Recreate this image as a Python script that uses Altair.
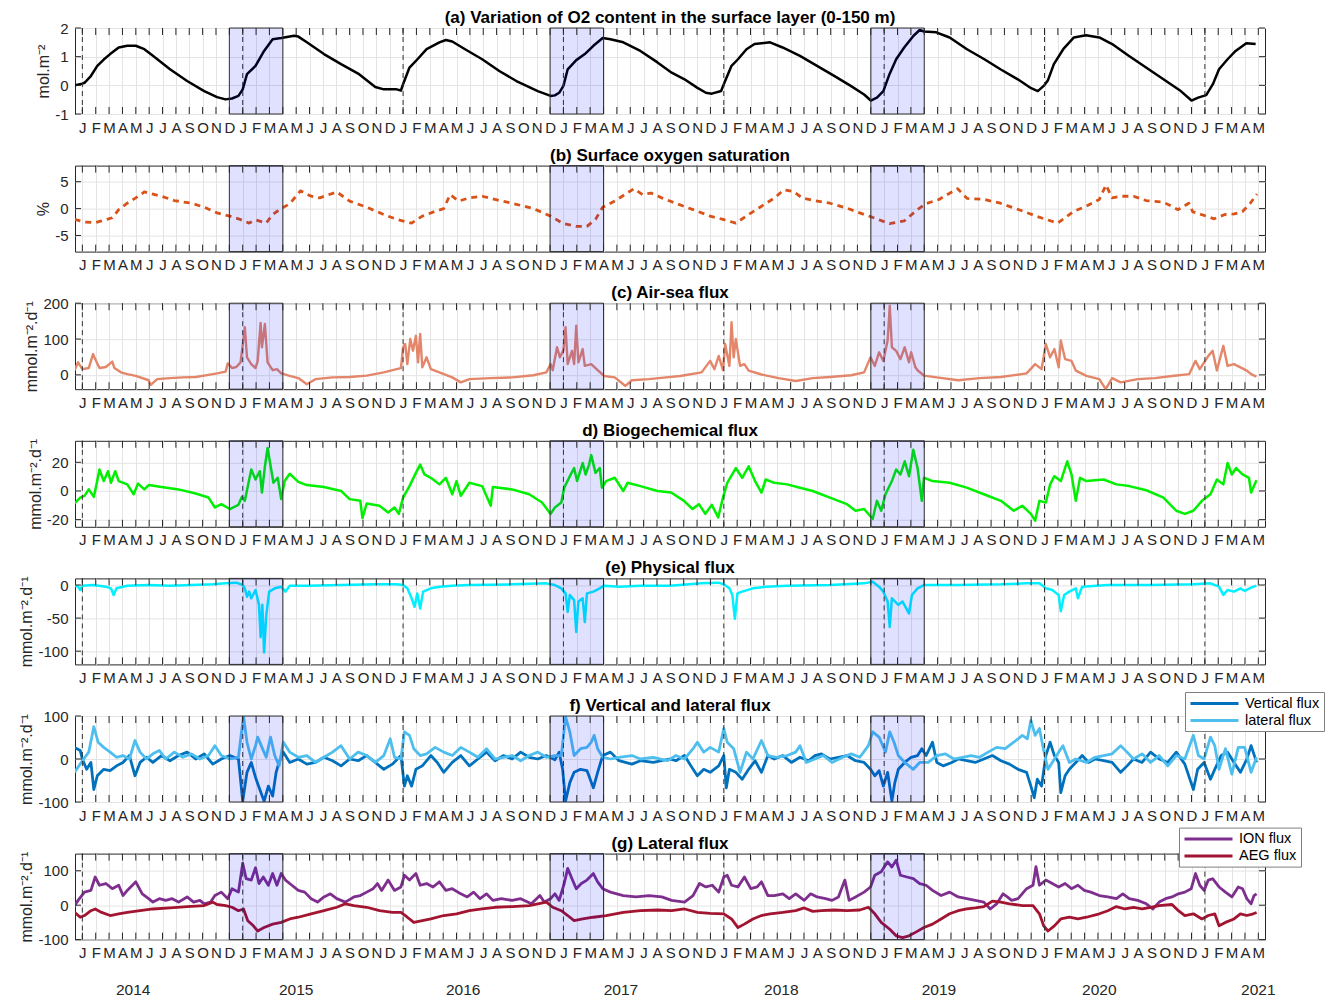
import altair as alt
import pandas as pd

# time axis: month index, 0 = 1 Jan 2014
MONTHS = list(range(0, 89))
JAN_LINES = [0, 12, 24, 36, 48, 60, 72, 84]
SHADE_START = [11, 35, 59]
SHADE_END = [15, 39, 63]
YEAR_LABELS = ["2014", "2015", "2016", "2017", "2018", "2019", "2020", "2021"]
YEAR_POS = [3.8, 16.0, 28.5, 40.3, 52.3, 64.1, 76.1, 88.0]

# (a) O2 content, mol m-2
A_O2 = [(-0.55,0.0),(0.0,0.06),(0.16,0.09),(0.6,0.3),(1.12,0.68),(1.6,0.9),(2.08,1.09),(2.72,1.32),(3.36,1.38),(4.0,1.38),(4.64,1.26),(5.28,1.03),(6.56,0.56),(7.84,0.15),(9.12,-0.2),(10.08,-0.41),(10.72,-0.49),(11.2,-0.46),(11.68,-0.37),(12.0,-0.14),(12.32,0.39),(12.96,0.68),(13.6,1.2),(14.24,1.61),(14.88,1.65),(15.84,1.73),(16.16,1.7),(16.8,1.5),(18.08,1.09),(19.36,0.74),(20.64,0.41),(21.92,-0.06),(22.56,-0.14),(23.52,-0.14),(23.84,-0.18),(24.0,0.04),(24.48,0.62),(24.96,0.85),(25.76,1.26),(26.72,1.5),(27.2,1.58),(27.68,1.53),(28.64,1.26),(29.92,0.91),(31.2,0.5),(32.48,0.15),(34.08,-0.2),(35.04,-0.37),(35.36,-0.35),(35.68,-0.26),(36.0,-0.02),(36.32,0.56),(36.96,0.88),(37.6,1.09),(38.24,1.38),(38.94,1.65),(39.52,1.61),(40.48,1.5),(41.76,1.2),(43.04,0.8),(44.1,0.44),(45.06,0.21),(46.0,-0.08),(46.66,-0.26),(47.1,-0.29),(47.8,-0.2),(48.1,0.15),(48.58,0.68),(49.06,0.91),(49.7,1.26),(50.3,1.44),(51.46,1.5),(52.4,1.32),(53.7,1.03),(54.98,0.68),(56.26,0.33),(57.5,-0.02),(58.5,-0.32),(59.0,-0.53),(59.46,-0.43),(59.94,-0.2),(60.4,0.39),(60.9,0.91),(61.5,1.32),(62.2,1.73),(62.66,1.93),(62.98,1.88),(63.9,1.85),(64.9,1.67),(66.2,1.26),(67.5,0.91),(68.7,0.56),(70.0,0.21),(71.0,-0.1),(71.5,-0.2),(71.94,-0.02),(72.26,0.18),(72.7,0.74),(73.4,1.26),(74.2,1.67),(75.1,1.75),(76.1,1.67),(77.06,1.44),(78.3,1.03),(79.6,0.62),(80.9,0.21),(82.2,-0.2),(83.0,-0.53),(83.5,-0.43),(84.1,-0.34),(84.6,0.04),(85.06,0.56),(85.7,0.91),(86.3,1.2),(87.1,1.47),(87.8,1.44)]

# (b) surface O2 saturation, %
B_SAT = [(-0.58,-2.0),(0.16,-2.5),(0.96,-2.6),(1.44,-2.3),(2.24,-1.7),(2.72,-0.2),(3.36,1.0),(4.0,2.0),(4.64,3.1),(5.28,2.7),(5.92,2.3),(6.88,1.5),(8.16,1.0),(9.12,0.25),(10.08,-0.8),(11.04,-1.4),(11.68,-1.9),(12.48,-2.7),(12.96,-2.1),(13.76,-2.7),(14.24,-1.1),(14.88,0.0),(15.52,0.9),(16.32,3.3),(17.12,2.3),(17.76,2.0),(19.04,3.1),(20.0,1.4),(21.28,0.25),(22.56,-1.1),(23.52,-2.0),(24.64,-2.7),(25.44,-1.4),(26.4,-0.5),(27.04,0.0),(27.52,2.6),(28.16,1.4),(28.96,2.0),(29.92,2.3),(30.88,1.7),(32.16,1.0),(33.76,0.0),(35.04,-1.4),(36.0,-2.8),(36.96,-3.3),(37.76,-3.3),(38.4,-2.0),(38.94,0.25),(39.84,1.4),(40.64,2.7),(41.28,3.7),(41.92,2.6),(42.56,2.9),(43.36,2.0),(44.4,1.0),(45.7,-0.2),(46.98,-1.4),(47.94,-2.0),(48.9,-2.7),(49.86,-1.1),(50.8,0.4),(51.8,2.0),(52.5,3.5),(53.2,3.2),(53.86,2.0),(54.8,1.5),(55.94,1.0),(57.2,0.1),(58.5,-1.1),(59.1,-1.6),(60.4,-2.8),(61.5,-2.3),(62.5,-0.2),(63.1,0.9),(64.1,1.7),(65.5,3.7),(66.2,1.9),(67.5,1.7),(68.7,1.0),(70.3,-0.4),(71.6,-1.6),(73.0,-2.7),(74.2,-0.5),(75.1,0.4),(76.1,1.7),(76.6,4.4),(77.06,2.0),(77.7,2.3),(78.66,2.3),(79.6,1.5),(80.9,1.2),(82.0,-0.2),(82.8,1.0),(83.1,-0.6),(84.1,-1.4),(84.7,-1.9),(85.5,-1.1),(86.2,-1.0),(86.8,-0.6),(87.4,1.0),(87.9,2.7)]

# (c) air-sea flux
C_AIRSEA = [(-0.58,13),(-0.32,35),(0.0,16),(0.48,19),(0.8,58),(0.96,44),(1.28,19),(1.76,22),(2.24,37),(2.4,19),(2.88,7),(3.36,2),(4.0,-3),(4.96,-15),(5.12,-28),(5.6,-12),(6.56,-9),(7.52,-7),(8.48,-6),(9.44,0),(10.08,4),(10.72,9),(10.88,32),(11.2,19),(11.52,22),(11.84,35),(12.16,133),(12.32,49),(12.64,30),(12.96,19),(13.12,39),(13.34,145),(13.44,77),(13.66,142),(13.86,35),(14.24,13),(14.56,16),(14.88,4),(15.52,-3),(16.16,-9),(16.8,-26),(17.44,-12),(18.72,-7),(20.0,-6),(21.28,-2),(22.56,7),(23.52,16),(23.84,19),(24.0,77),(24.16,86),(24.32,30),(24.54,100),(24.74,67),(24.96,109),(25.12,35),(25.28,114),(25.44,21),(25.76,49),(26.08,16),(26.72,7),(27.68,-7),(28.32,-21),(28.96,-12),(30.56,-9),(32.16,-7),(33.76,-1),(34.72,7),(35.04,30),(35.2,13),(35.52,77),(35.74,49),(36.0,69),(36.16,133),(36.32,30),(36.64,67),(36.8,30),(36.96,137),(37.12,35),(37.44,72),(37.6,25),(38.08,30),(38.56,13),(39.04,-3),(39.84,-7),(40.64,-31),(41.12,-15),(42.4,-12),(43.68,-7),(44.74,-3),(46.34,7),(46.98,39),(47.3,16),(47.62,53),(47.94,13),(48.1,86),(48.42,25),(48.58,147),(48.74,49),(48.9,100),(49.22,25),(49.54,30),(49.86,12),(50.82,1),(52.1,-9),(53.38,-17),(54.66,-9),(55.94,-6),(57.54,-1),(58.5,7),(58.98,49),(59.3,25),(59.62,63),(59.94,39),(60.26,96),(60.42,193),(60.58,77),(60.9,67),(61.22,44),(61.54,77),(61.86,35),(62.02,63),(62.34,21),(62.5,13),(62.98,-2),(63.94,-7),(65.54,-15),(67.14,-9),(68.74,-6),(70.66,4),(71.3,30),(71.78,16),(72.1,86),(72.42,49),(72.74,72),(73.06,21),(73.22,96),(73.54,44),(74.02,39),(74.34,12),(75.14,-3),(76.1,-12),(76.58,-40),(77.06,-9),(77.7,-21),(78.98,-12),(80.26,-9),(81.54,-3),(82.82,2),(83.3,39),(83.62,16),(84.26,53),(84.58,67),(84.9,12),(85.38,81),(85.7,25),(86.18,30),(86.66,21),(87.14,12),(87.46,2),(87.86,-5)]

# (d) biogeochemical flux
D_BIO = [(-0.58,-8.7),(-0.16,-4.6),(0.16,-3.4),(0.48,1.1),(0.86,-4.1),(1.06,4.6),(1.28,15),(1.6,6.9),(1.92,13.8),(2.14,5.7),(2.46,13.8),(2.72,6.9),(3.36,4.6),(3.84,-2.3),(4.16,5.1),(4.64,1.1),(4.96,4.1),(5.92,2.8),(7.2,1.1),(8.48,-1.8),(9.44,-4.6),(9.92,-11.5),(10.4,-9.2),(11.04,-12.6),(11.68,-9.7),(11.94,-4.1),(12.16,-6.9),(12.64,15),(12.96,8.0),(13.28,13.8),(13.44,-1.1),(13.66,17),(13.86,30),(14.05,19.5),(14.3,5.7),(14.62,9.2),(14.88,-5.7),(15.14,6.9),(15.52,12),(16.16,6.4),(16.8,4.1),(18.08,2.8),(19.36,0),(20.0,-5.7),(20.8,-6.9),(20.96,-18.9),(21.28,-8.7),(22.24,-10.3),(22.88,-15),(23.36,-11.5),(23.68,-16),(24.0,-4.6),(24.48,3.4),(24.96,12.6),(25.28,18.4),(25.6,11.5),(26.08,9.2),(26.72,4.6),(27.2,9.2),(27.68,-2.3),(28.0,6.9),(28.32,-3.4),(28.96,5.7),(29.92,3.4),(30.56,-10.3),(30.72,2.8),(32.16,1.1),(33.44,-2.3),(34.4,-8.0),(35.04,-16),(35.36,-11.5),(35.84,-8),(36.06,2.3),(36.48,10.3),(36.8,16),(37.02,6.9),(37.44,19.5),(37.66,11.5),(37.92,18.4),(38.08,25),(38.4,12.6),(38.72,16),(38.88,2.3),(39.2,6.9),(39.84,9.2),(40.48,0),(40.8,5.7),(41.76,3.4),(43.04,0),(44.06,-1.1),(45.02,-6.9),(45.66,-12.6),(46.14,-9.2),(46.62,-16),(47.1,-9.7),(47.58,-18.4),(47.94,-4.6),(48.26,5.7),(48.9,16),(49.38,9.2),(49.86,17.2),(50.34,6.9),(50.82,-1.1),(51.14,8),(51.78,5.7),(52.74,4.6),(53.7,2.3),(54.66,0),(55.94,-4.6),(57.22,-9.2),(57.86,-13.8),(58.5,-12.6),(59.14,-19.5),(59.46,-6.9),(59.78,-13.8),(60.1,-2.3),(60.58,6.9),(60.9,15),(61.22,11.5),(61.54,20.7),(61.86,10.3),(62.18,28.7),(62.5,16),(62.82,-6.9),(62.98,9.2),(63.62,6.9),(64.9,5.7),(66.18,2.3),(67.46,-2.3),(68.74,-6.9),(69.7,-13.8),(70.34,-10.3),(70.98,-16),(71.3,-20.7),(71.62,-6.9),(72.1,-8),(72.42,4.6),(72.74,10.3),(73.22,6.9),(73.7,20.7),(74.02,11.5),(74.34,-6.9),(74.66,9.2),(75.14,6.9),(76.42,8),(77.38,4.6),(78.34,3.4),(79.62,0.5),(80.9,-4.6),(81.86,-13.8),(82.5,-16),(83.14,-13.8),(83.78,-6.9),(84.42,-2.3),(84.9,8),(85.38,4.6),(85.7,19.5),(86.02,11.5),(86.34,16),(86.82,11.5),(87.3,9.2),(87.46,-1.1),(87.86,7.4)]

# (e) physical flux
E_PHYS = [(-0.58,-1),(-0.32,-2.5),(-0.16,-7.6),(0.0,-1),(0.8,0),(1.76,-2.5),(2.14,-5),(2.34,-15.2),(2.56,-5),(3.36,-1),(4.96,0),(6.56,-1),(8.16,0),(9.76,1),(10.72,2.5),(11.52,3.6),(12.0,0),(12.16,-5),(12.32,-17.8),(12.48,-10),(12.64,-20),(12.96,-7.6),(13.22,-30),(13.34,-79),(13.47,-30),(13.6,-102),(13.76,-46),(13.98,-10),(14.4,-5),(14.88,-2.5),(15.2,-10),(15.52,-1),(16.8,-1),(19.36,0),(21.92,1),(23.52,1),(24.0,0),(24.32,-5),(24.64,-20),(24.86,-33),(25.06,-12.7),(25.28,-35.5),(25.5,-10),(26.08,-5),(26.72,-2.5),(27.68,-1),(28.96,0),(32.16,1),(34.72,2.5),(35.36,0),(35.84,-5),(36.16,-12.7),(36.32,-40.6),(36.48,-15),(36.8,-22.8),(36.96,-71),(37.12,-25),(37.44,-20),(37.6,-56),(37.76,-12.7),(38.24,-10),(38.72,-5),(39.04,-1),(40.16,-2.5),(41.76,-1),(43.94,-1),(44.7,0),(46.3,2.5),(47.6,3.6),(48.0,1),(48.42,-5),(48.64,-15),(48.83,-51),(49.02,-12.7),(49.38,-10),(50.18,-5),(51.14,-2.5),(52.74,-1),(55.94,0),(58.5,2.5),(59.14,5),(59.62,-2.5),(59.94,-10),(60.26,-25),(60.42,-63.5),(60.58,-20),(61.06,-30),(61.38,-25),(61.86,-43),(62.08,-15),(62.5,-5),(62.98,0),(65.54,0),(68.74,1),(70.66,2.5),(71.62,2.5),(72.1,-5),(72.58,-7.6),(73.06,-15),(73.22,-39.6),(73.47,-15),(73.86,-10),(74.34,-5),(74.5,-20),(74.82,-2.5),(76.74,0),(79.94,0),(83.14,1),(84.42,2.5),(85.06,-2.5),(85.38,-15),(85.7,-7.6),(86.18,-10),(86.66,-5),(86.98,-9),(87.46,-4),(87.86,-1)]

# (f) vertical and lateral flux
F_VERT = [(-0.58,27),(-0.16,20),(0.0,0),(0.32,-24),(0.64,-8),(0.86,-71),(1.12,-39),(1.6,-24),(2.08,-27),(2.56,-16),(3.04,-8),(3.52,8),(3.94,-39),(4.32,-8),(4.8,4),(5.28,-8),(5.92,8),(6.56,-4),(7.2,8),(7.84,16),(8.48,0),(9.12,12),(9.76,-12),(10.4,0),(11.04,8),(11.68,0),(12.0,-98),(12.32,-31),(12.64,-8),(12.96,-43),(13.28,-71),(13.6,-98),(13.92,-63),(14.24,-86),(14.5,-31),(14.72,-8),(15.04,16),(15.52,-8),(16.16,0),(16.8,-12),(17.44,-8),(18.08,4),(18.72,-4),(19.36,-16),(20.0,0),(20.64,-4),(21.28,8),(21.92,-8),(22.56,-24),(23.2,-12),(23.84,8),(24.1,-63),(24.32,-39),(24.64,-63),(24.96,-24),(25.44,-16),(26.08,8),(26.56,-8),(27.04,-31),(27.68,-8),(28.32,8),(28.96,-16),(29.6,0),(30.24,16),(30.88,-4),(31.52,8),(32.16,0),(32.8,16),(33.44,4),(34.08,0),(34.72,8),(35.36,-2),(35.68,16),(35.94,-24),(36.16,-98),(36.48,-55),(36.8,-31),(37.28,-24),(37.76,-27),(38.24,-67),(38.56,-31),(38.94,8),(39.52,16),(40.16,-4),(41.12,-12),(41.76,-4),(42.72,-8),(43.94,0),(44.42,-4),(45.06,8),(45.54,-16),(46.02,-39),(46.5,-24),(46.98,-31),(47.62,-16),(48.0,8),(48.19,-67),(48.42,-24),(48.9,-31),(49.38,-47),(49.86,-24),(50.34,-4),(50.82,-31),(51.3,8),(51.78,0),(52.42,8),(53.06,-8),(53.7,4),(54.34,-4),(54.82,8),(55.3,12),(55.94,0),(56.58,4),(57.22,8),(57.86,-4),(58.5,-8),(58.98,-24),(59.3,-39),(59.62,-27),(59.94,-63),(60.26,-31),(60.58,-98),(60.8,-55),(61.06,-24),(61.54,-8),(62.02,4),(62.5,8),(62.82,24),(63.14,8),(63.62,39),(63.94,-8),(64.42,-16),(65.06,-8),(65.54,0),(66.18,-4),(66.82,-8),(67.46,0),(68.1,8),(68.74,-4),(69.38,-12),(70.02,-24),(70.66,-31),(70.98,-63),(71.23,-90),(71.46,-47),(71.78,-63),(72.1,8),(72.42,39),(72.74,8),(73.06,-8),(73.22,-78),(73.54,-39),(73.86,-24),(74.34,-8),(74.82,8),(75.3,-8),(75.78,0),(76.42,-4),(77.06,-8),(77.7,-31),(78.18,-16),(78.66,0),(79.3,-8),(79.94,16),(80.58,0),(81.22,-8),(81.86,16),(82.5,-12),(83.14,-71),(83.46,-24),(83.94,-8),(84.42,-47),(84.74,-24),(85.22,8),(85.7,16),(86.18,-8),(86.66,-31),(87.14,0),(87.46,31),(87.87,-8)]
F_LAT = [(-0.58,-31),(0.0,-4),(0.48,16),(0.86,75),(1.18,39),(1.6,27),(2.08,16),(2.56,4),(3.04,8),(3.52,0),(3.94,43),(4.32,16),(4.8,0),(5.28,12),(5.76,20),(6.24,0),(6.88,16),(7.52,4),(8.16,12),(8.8,0),(9.44,8),(9.92,31),(10.4,8),(11.04,0),(11.68,4),(12.06,100),(12.32,39),(12.64,0),(12.96,31),(13.12,51),(13.44,27),(13.76,4),(14.08,51),(14.4,8),(14.72,-16),(15.04,39),(15.52,16),(16.16,4),(16.8,8),(17.44,-8),(18.08,4),(18.72,16),(19.36,31),(20.0,0),(20.64,16),(21.28,8),(21.92,-8),(22.56,8),(23.04,47),(23.36,4),(23.84,0),(24.1,63),(24.48,55),(24.8,24),(25.28,8),(25.76,12),(26.4,27),(27.04,16),(27.68,8),(28.32,27),(28.96,16),(29.6,4),(30.24,24),(30.88,0),(31.52,4),(32.16,8),(32.8,-4),(33.44,8),(34.08,16),(34.72,4),(35.36,8),(35.84,8),(36.16,98),(36.48,63),(36.8,8),(37.28,24),(37.76,27),(38.08,39),(38.3,55),(38.56,24),(38.94,4),(39.52,0),(40.16,4),(41.12,8),(41.76,0),(42.72,4),(43.78,-4),(44.42,8),(45.06,0),(45.7,24),(46.02,39),(46.5,16),(46.98,27),(47.62,16),(48.0,71),(48.26,39),(48.74,24),(49.22,-31),(49.7,16),(50.18,0),(50.82,43),(51.3,8),(51.94,4),(52.74,8),(53.38,16),(53.7,31),(54.18,-8),(54.82,0),(55.46,8),(56.1,-8),(56.9,4),(57.54,12),(58.18,4),(58.82,31),(59.14,63),(59.62,51),(60.1,16),(60.42,63),(60.74,39),(61.06,8),(61.54,-8),(62.18,-24),(62.66,-8),(63.3,-8),(63.94,8),(64.58,12),(65.22,0),(65.86,4),(66.5,8),(67.14,4),(67.78,16),(68.42,27),(69.06,24),(69.7,39),(70.34,55),(70.72,47),(70.98,90),(71.3,55),(71.62,71),(71.94,20),(72.26,-24),(72.58,-8),(73.06,16),(73.38,31),(73.86,-8),(74.34,0),(75.14,-8),(75.78,4),(76.42,8),(77.06,12),(77.7,31),(78.18,16),(78.66,0),(79.3,12),(79.94,-8),(80.58,8),(81.22,-16),(81.86,8),(82.5,0),(83.14,55),(83.52,8),(83.94,0),(84.42,51),(84.74,31),(85.06,-24),(85.54,24),(86.02,-35),(86.5,27),(86.98,27),(87.46,-31),(87.87,4)]

# (g) lateral flux split
G_ION = [(-0.58,-1),(-0.32,14),(0.16,38),(0.64,43),(0.96,82),(1.28,58),(1.76,63),(2.24,48),(2.72,58),(3.04,28),(3.36,43),(4.0,68),(4.48,33),(4.96,19),(5.28,9),(5.76,19),(6.24,14),(6.72,19),(7.2,9),(7.84,24),(8.32,9),(8.8,14),(9.12,4),(9.6,9),(9.92,28),(10.4,38),(10.88,19),(11.2,48),(11.68,38),(12.0,122),(12.26,77),(12.64,73),(12.96,109),(13.22,63),(13.54,82),(13.92,58),(14.24,92),(14.56,58),(14.88,92),(15.2,73),(15.68,58),(16.16,43),(16.64,38),(17.12,19),(17.6,9),(18.08,24),(18.56,33),(19.04,19),(19.68,9),(20.32,24),(20.8,28),(21.28,38),(21.76,48),(22.08,63),(22.4,43),(22.88,73),(23.36,43),(23.84,53),(24.1,87),(24.48,73),(24.96,92),(25.28,58),(25.76,63),(26.24,53),(26.72,68),(27.2,43),(27.68,48),(28.32,33),(28.8,24),(29.28,38),(29.76,19),(30.24,33),(30.72,14),(31.36,19),(32.16,14),(32.8,19),(33.6,4),(34.24,28),(34.56,9),(35.04,19),(35.36,33),(35.68,14),(36.06,63),(36.32,107),(36.64,77),(36.96,48),(37.34,63),(37.76,73),(38.24,92),(38.56,68),(38.94,48),(39.52,38),(40.48,28),(41.44,24),(42.4,28),(43.36,24),(44.1,14),(45.06,9),(45.7,28),(46.18,63),(46.66,53),(47.14,58),(47.62,38),(48.0,82),(48.26,87),(48.58,58),(49.06,53),(49.54,82),(50.02,48),(50.5,53),(50.82,68),(51.3,28),(51.78,28),(52.42,33),(52.9,19),(53.38,33),(54.02,14),(54.5,33),(54.98,24),(55.62,19),(56.1,14),(56.58,24),(57.06,73),(57.38,14),(57.86,24),(58.5,38),(58.98,53),(59.3,87),(59.78,97),(60.26,126),(60.58,111),(60.9,131),(61.22,87),(61.7,82),(62.18,77),(62.66,63),(63.14,58),(63.62,43),(64.26,28),(64.9,38),(65.54,24),(66.18,19),(66.82,14),(67.46,9),(67.94,-11),(68.42,4),(68.9,33),(69.22,24),(69.54,14),(70.02,19),(70.66,48),(71.14,58),(71.36,112),(71.62,58),(72.1,73),(72.58,63),(73.06,53),(73.54,63),(74.02,48),(74.5,58),(74.98,43),(75.46,38),(76.1,28),(76.74,24),(77.38,19),(77.86,33),(78.34,19),(78.98,14),(79.62,4),(80.1,-11),(80.58,9),(81.06,19),(81.54,24),(82.02,33),(82.5,38),(82.98,48),(83.3,92),(83.62,58),(83.94,43),(84.26,73),(84.58,77),(85.06,53),(85.54,38),(86.02,24),(86.5,53),(86.82,48),(87.14,19),(87.46,4),(87.68,28),(87.87,33)]
G_AEG = [(-0.58,-21),(-0.16,-35),(0.16,-30),(0.64,-16),(0.96,-11),(1.44,-21),(2.08,-30),(2.72,-25),(3.36,-21),(4.32,-16),(5.28,-11),(6.56,-8),(7.84,-4),(9.12,-1),(9.76,9),(10.08,2),(10.72,-1),(11.2,-6),(11.68,-16),(12.06,-11),(12.38,-45),(12.8,-60),(13.12,-75),(13.6,-65),(14.24,-55),(14.88,-50),(15.52,-40),(16.16,-35),(17.12,-25),(18.08,-16),(19.04,-6),(19.68,4),(20.32,-1),(21.28,-6),(22.24,-16),(23.2,-21),(23.84,-21),(24.32,-35),(24.8,-50),(25.44,-45),(26.08,-40),(27.04,-30),(28.0,-25),(28.96,-16),(29.92,-11),(30.88,-6),(32.16,-4),(33.44,-1),(34.08,4),(34.72,9),(35.2,-6),(35.84,-16),(36.32,-30),(36.8,-45),(37.44,-40),(38.24,-35),(39.2,-30),(40.48,-21),(41.76,-16),(43.04,-14),(44.1,-16),(45.06,-11),(46.02,-21),(46.98,-24),(48.0,-25),(48.58,-40),(49.06,-65),(49.54,-55),(50.18,-40),(50.82,-30),(51.46,-25),(52.42,-21),(53.38,-16),(54.02,-8),(54.66,-18),(55.3,-16),(56.26,-14),(57.22,-16),(58.18,-14),(58.82,-6),(59.3,-25),(59.78,-50),(60.42,-70),(60.9,-89),(61.38,-94),(61.86,-89),(62.34,-79),(62.98,-65),(63.62,-55),(64.26,-40),(64.9,-25),(65.54,-16),(66.18,-11),(66.82,-8),(67.46,-4),(68.1,12),(68.74,9),(69.38,4),(70.34,-1),(71.14,-1),(71.62,-25),(71.94,-60),(72.26,-75),(72.74,-60),(73.22,-40),(73.86,-35),(74.5,-40),(75.14,-35),(76.1,-25),(76.74,-16),(77.38,-4),(78.02,-11),(78.66,-6),(79.3,-11),(79.94,-6),(80.58,-1),(81.54,2),(82.02,-16),(82.5,-30),(83.14,-25),(83.78,-40),(84.26,-30),(84.74,-25),(85.06,-60),(85.54,-50),(86.18,-40),(86.66,-25),(87.14,-30),(87.62,-25),(87.87,-21)]

# ------------------------------------------------------------------
W, H = 1190, 86
XD = [-0.55, 88.5]
FONT = "Liberation Sans"
INK = "#262626"
GRID = "#e4e4e4"

def df_of(pairs, name=None):
    d = pd.DataFrame(pairs, columns=["t", "v"])
    if name is not None:
        d["series"] = name
    return d

XAXIS = alt.Axis(values=MONTHS, labelExpr="substring('JFMAMJJASOND', datum.value % 12, datum.value % 12 + 1)",
                 grid=True, gridColor=GRID, gridWidth=1, ticks=False, domain=False, labelFontSize=15,
                 labelPadding=6, labelOverlap=False, labelFlush=False, title=None, labelColor=INK,
                 labelAngle=0, labelFont=FONT)

def xenc(field):
    return alt.X(f"{field}:Q", scale=alt.Scale(domain=XD, nice=False, zero=False), axis=XAXIS)

def yenc(field, dom, vals, title):
    ax = alt.Axis(values=vals, grid=True, gridColor=GRID, gridWidth=1, ticks=False, domain=False,
                  labelFontSize=15, labelPadding=7, labelColor=INK, labelFont=FONT,
                  labelExpr="'' + datum.value",
                  title=title, titleFontSize=16, titleFontWeight="normal", titlePadding=3,
                  titleColor=INK, titleFont=FONT)
    return alt.Y(f"{field}:Q", scale=alt.Scale(domain=dom, nice=False, zero=False), axis=ax)

MONTH_DF = pd.DataFrame({"m": MONTHS})
JAN_DF = pd.DataFrame({"m": JAN_LINES})
SHADE_DF = pd.DataFrame({"start": SHADE_START, "end": SHADE_END})
YEAR_DF = pd.DataFrame({"t": YEAR_POS, "label": YEAR_LABELS})

def panel(main_layers, dom, vals, ytitle, title, jan=True, extra=None):
    layers = list(main_layers)
    if jan:
        layers.append(alt.Chart(JAN_DF).mark_rule(color="#333333", strokeDash=[5, 4], strokeWidth=1)
                      .encode(x=xenc("m")))
    layers.append(alt.Chart(SHADE_DF).mark_rect(fill="#0000ff", fillOpacity=0.12, stroke="#333333",
                                                strokeWidth=1)
                  .encode(x=xenc("start"), x2="end:Q", y=alt.value(0), y2=alt.value(H)))
    layers.append(alt.Chart(MONTH_DF).mark_rule(color=INK, strokeWidth=1)
                  .encode(x=xenc("m"), y=alt.value(0), y2=alt.value(7)))
    layers.append(alt.Chart(MONTH_DF).mark_rule(color=INK, strokeWidth=1)
                  .encode(x=xenc("m"), y=alt.value(H - 7), y2=alt.value(H)))
    ydf = pd.DataFrame({"v": vals})
    layers.append(alt.Chart(ydf).mark_rule(color=INK, strokeWidth=1)
                  .encode(y=yenc("v", dom, vals, ytitle), x=alt.value(0), x2=alt.value(6)))
    layers.append(alt.Chart(ydf).mark_rule(color=INK, strokeWidth=1)
                  .encode(y=yenc("v", dom, vals, ytitle), x=alt.value(W - 6), x2=alt.value(W)))
    layers.append(alt.Chart(pd.DataFrame({"title": [title]})).mark_text(
        fontSize=17, fontWeight="bold", font=FONT, color="black", align="center", baseline="alphabetic")
        .encode(x=alt.value(W / 2), y=alt.value(-5), text="title:N"))
    if extra is not None:
        layers.extend(extra)
    return alt.layer(*layers).properties(width=W, height=H)

def single(pairs, dom, vals, ytitle, color, width=2.0, dash=None):
    kw = dict(color=color, strokeWidth=width, clip=True, strokeJoin="round")
    if dash is not None:
        kw["strokeDash"] = dash
    return alt.Chart(df_of(pairs)).mark_line(**kw).encode(x=xenc("t"), y=yenc("v", dom, vals, ytitle))

def legend(lx, ly):
    return alt.Legend(title=None, orient="none", legendX=lx, legendY=ly, symbolType="M-4,0H4",
                      symbolSize=144, symbolStrokeWidth=3, symbolOffset=18, labelFontSize=14.5,
                      labelFont=FONT, labelColor="black", labelOffset=23, fillColor="white",
                      strokeColor="#808080", padding=4, rowPadding=2)

MMOL = "mmol.m⁻².d⁻¹"

dA, vA = [-1, 2], [-1, 0, 1, 2]
pa = panel([single(A_O2, dA, vA, "mol.m⁻²", "black", 2.5)], dA, vA, "mol.m⁻²",
           "(a) Variation of O2 content in the surface layer (0-150 m)")

dB, vB = [-8, 8], [-5, 0, 5]
pb = panel([single(B_SAT, dB, vB, "%", "#D95319", 2.8, [6, 5])], dB, vB, "%",
           "(b) Surface oxygen saturation", jan=False)

dC, vC = [-40, 200], [0, 100, 200]
pc = panel([single(C_AIRSEA, dC, vC, MMOL, "#e3866a", 2.4)], dC, vC, MMOL, "(c) Air-sea flux")

dD, vD = [-25, 35], [-20, 0, 20]
pd_ = panel([single(D_BIO, dD, vD, MMOL, "#00f000", 2.5)], dD, vD, MMOL, "d) Biogechemical flux")

dE, vE = [-120, 10], [-100, -50, 0]
pe = panel([single(E_PHYS, dE, vE, MMOL, "#00f0ff", 2.5)], dE, vE, MMOL, "(e) Physical flux")

dF, vF = [-100, 100], [-100, 0, 100]
F_DF = pd.concat([df_of(F_VERT, "Vertical flux"), df_of(F_LAT, "lateral flux")])
fline = alt.Chart(F_DF).mark_line(strokeWidth=2.8, clip=True, strokeJoin="round").encode(
    x=xenc("t"), y=yenc("v", dF, vF, MMOL),
    color=alt.Color("series:N", scale=alt.Scale(domain=["Vertical flux", "lateral flux"],
                                                range=["#0072BD", "#4DBEEE"]), legend=legend(1110, -24)))
pf = panel([fline], dF, vF, MMOL, "f) Vertical and lateral flux")

dG, vG = [-100, 150], [-100, 0, 100]
G_DF = pd.concat([df_of(G_ION, "ION flux"), df_of(G_AEG, "AEG flux")])
gline = alt.Chart(G_DF).mark_line(strokeWidth=2.8, clip=True, strokeJoin="round").encode(
    x=xenc("t"), y=yenc("v", dG, vG, MMOL),
    color=alt.Color("series:N", scale=alt.Scale(domain=["ION flux", "AEG flux"],
                                                range=["#7E2F8E", "#A2142F"]), legend=legend(1104, -26)))
years = alt.Chart(YEAR_DF).mark_text(fontSize=15.5, font=FONT, color=INK, baseline="middle").encode(
    x=xenc("t"), y=alt.value(H + 50), text="label:N")
pg = panel([gline], dG, vG, MMOL, "(g) Lateral flux", extra=[years])

chart = alt.vconcat(pa, pb, pc, pd_, pe, pf, pg, spacing=51.6, bounds="flush").resolve_scale(
    x="independent", y="independent", color="independent").resolve_legend(color="independent").properties(
    padding={"left": 10, "top": 0, "right": 0, "bottom": 0}).configure_view(stroke=INK, strokeWidth=1)

chart.save("out.html", embed_options={"renderer": "svg", "actions": False})
